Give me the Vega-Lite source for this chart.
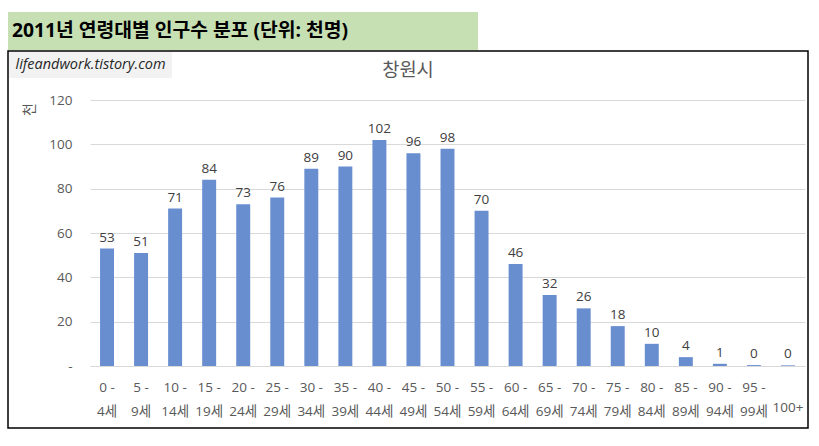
{
  "$schema": "https://vega.github.io/schema/vega-lite/v6.json",
  "background": "white",
  "padding": {"left": 7, "top": 12, "right": 0, "bottom": 0},
  "spacing": 0,
  "config": {"font": "Open Sans, Noto Sans CJK KR", "concat": {"spacing": 0}},
  "resolve": {"scale": {"color": "independent"}, "legend": {"color": "independent"}},
  "vconcat": [
    {
      "width": 470,
      "height": 38,
      "view": {"fill": "#c6e0b4", "stroke": null},
      "data": {"values": [{"heading": "2011년 연령대별 인구수 분포 (단위: 천명)"}]},
      "mark": {"type": "text", "align": "left", "baseline": "middle", "fontSize": 19.3, "fontWeight": "bold", "color": "#000000", "dx": 4},
      "encoding": {
        "x": {"datum": 0, "type": "quantitative", "scale": {"domain": [0, 1]}, "axis": null},
        "y": {"datum": 0.5, "type": "quantitative", "scale": {"domain": [0, 1]}, "axis": null},
        "text": {"field": "heading"}
      }
    },
    {
      "width": 800,
      "height": 377,
      "view": {"stroke": "#000000", "strokeWidth": 1.5},
      "title": {"text": "창원시", "anchor": "middle", "orient": "top", "offset": -38, "baseline": "middle", "fontSize": 18.7, "fontWeight": "normal", "color": "#595959", "font": "Noto Sans CJK KR"},
      "data": {"values": [
        {"age": "0 - 4세", "v": 53},
        {"age": "5 - 9세", "v": 51},
        {"age": "10 - 14세", "v": 71},
        {"age": "15 - 19세", "v": 84},
        {"age": "20 - 24세", "v": 73},
        {"age": "25 - 29세", "v": 76},
        {"age": "30 - 34세", "v": 89},
        {"age": "35 - 39세", "v": 90},
        {"age": "40 - 44세", "v": 102},
        {"age": "45 - 49세", "v": 96},
        {"age": "50 - 54세", "v": 98},
        {"age": "55 - 59세", "v": 70},
        {"age": "60 - 64세", "v": 46},
        {"age": "65 - 69세", "v": 32},
        {"age": "70 - 74세", "v": 26},
        {"age": "75 - 79세", "v": 18},
        {"age": "80 - 84세", "v": 10},
        {"age": "85 - 89세", "v": 4},
        {"age": "90 - 94세", "v": 1},
        {"age": "95 - 99세", "v": 0.4},
        {"age": "100+", "v": 0.3}
      ]},
      "encoding": {
        "x": {
          "field": "age", "type": "nominal", "sort": null,
          "scale": {"range": [82, 797], "paddingInner": 0.59, "paddingOuter": 0.295},
          "axis": {
            "title": null, "orient": "bottom", "offset": -62,
            "domainColor": "#d9d9d9", "domainWidth": 1, "ticks": false, "tickSize": 0,
            "labelAngle": 0, "labelFontSize": 13.5, "labelColor": "#595959",
            "labelLineHeight": 24.5, "labelOverlap": false, "labelBound": false,
            "labelPadding": {"condition": {"test": "datum.value == '100+'", "value": 34}, "value": 14},
            "labelExpr": "datum.value == '100+' ? ['100+'] : [slice(datum.value, 0, indexof(datum.value, ' - ') + 2), slice(datum.value, indexof(datum.value, ' - ') + 3)]",
            "grid": false
          }
        },
        "y": {
          "field": "v", "type": "quantitative",
          "scale": {"domain": [0, 120], "range": [315, 49], "nice": false},
          "axis": {
            "title": "천", "offset": -82, "values": [0, 20, 40, 60, 80, 100, 120],
            "domain": false, "ticks": false, "tickSize": 0, "labelPadding": 18,
            "labelExpr": "datum.value == 0 ? '-' : datum.label",
            "labelFontSize": 13.5, "labelColor": "#595959",
            "gridColor": "#d9d9d9", "gridWidth": 1,
            "titleAngle": -90, "titleX": -61, "titleY": 58, "titleAlign": "center", "titleBaseline": "middle",
            "titleFontWeight": "normal", "titleFontSize": 14, "titleColor": "#595959", "titleFont": "Noto Sans CJK KR"
          }
        }
      },
      "layer": [
        {
          "mark": {"type": "bar"},
          "encoding": {
            "color": {
              "datum": "lifeandwork.tistory.com",
              "scale": {"range": ["#698ed0"]},
              "legend": {
                "title": null, "orient": "top-left", "offset": 1, "padding": 6,
                "fillColor": "#f2f2f2", "strokeColor": null,
                "labelFontStyle": "italic", "labelFontSize": 14.5, "labelColor": "#262626",
                "symbolSize": 0, "symbolOpacity": 0, "symbolStrokeWidth": 0,
                "labelOffset": -14, "labelLimit": 400, "symbolType": "square"
              }
            }
          }
        },
        {
          "mark": {"type": "text", "baseline": "alphabetic", "dy": -7, "fontSize": 13.5, "color": "#404040"},
          "encoding": {"text": {"field": "v", "format": ".0f"}}
        }
      ]
    }
  ]
}
